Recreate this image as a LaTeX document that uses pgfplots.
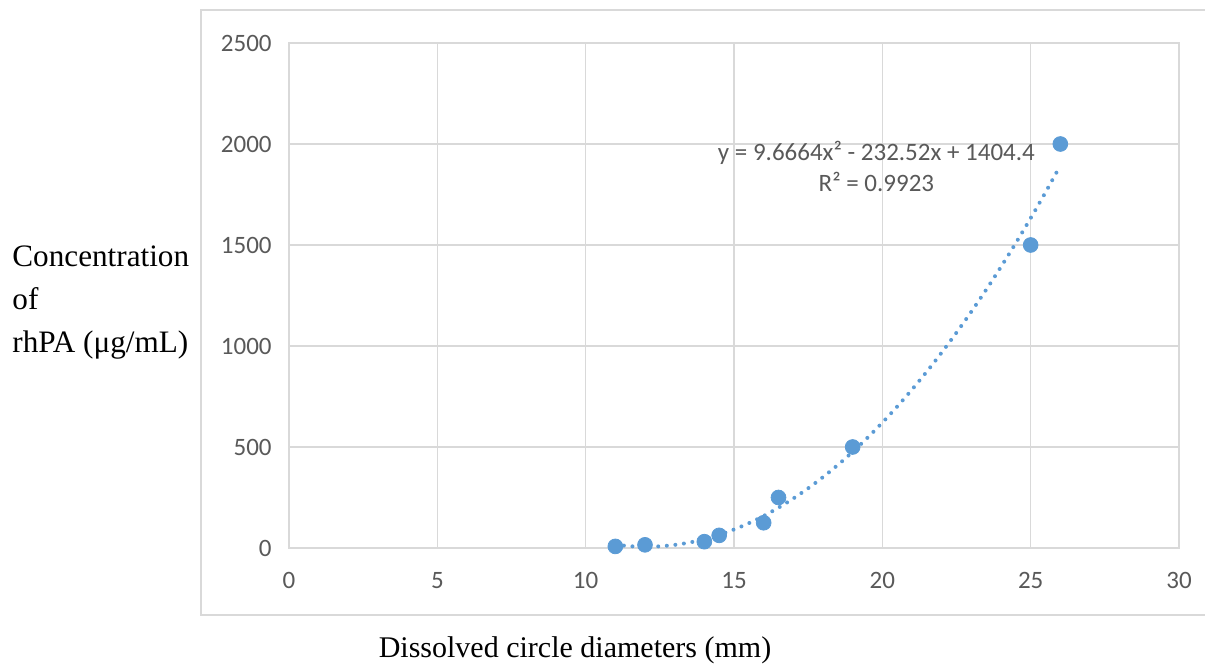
\documentclass[border=0pt]{standalone}
\usepackage{fontspec}
\setmainfont{Liberation Serif}
\newfontfamily\calibri{Carlito}
\usepackage{pgfplots}
\pgfplotsset{compat=1.18}

\definecolor{xlblue}{HTML}{5B9BD5}
\definecolor{xlgrid}{HTML}{D9D9D9}
\definecolor{xltext}{HTML}{595959}

\begin{document}
\begin{tikzpicture}
\useasboundingbox (0,0) rectangle (602.5pt,334pt);
% chart area border (right side runs off the picture)
\draw[xlgrid, line width=0.8pt] (603pt,329pt) -- (100.5pt,329pt) -- (100.5pt,26.5pt) -- (603pt,26.5pt);

\begin{axis}[
    at={(144.5pt,60pt)}, anchor=south west,
    scale only axis,
    width=445pt, height=252.5pt,
    xmin=0, xmax=30, ymin=0, ymax=2500,
    xtick={0,5,...,30}, ytick={0,500,...,2500},
    major tick length=0pt,
    grid=major,
    grid style={xlgrid, line width=0.75pt},
    axis line style={xlgrid, line width=0.75pt},
    tick label style={font=\calibri\fontsize{12.5}{14}\selectfont, text=xltext},
    /pgf/number format/assume math mode=true,
    /pgf/number format/1000 sep={},
    yticklabel style={anchor=east, inner sep=0pt, xshift=-8.5pt},
    xticklabel style={anchor=north, inner sep=0pt, yshift=-12pt},
    clip=false,
]
% polynomial trendline (values of the fitted curve shown on the chart)
\addplot[xlblue, line width=2pt, line cap=round, dash pattern=on 0pt off 4.3pt, smooth] coordinates {
 (11,16.3) (11.5,8.8) (12,6.1) (12.5,8.3) (13,15.3) (13.5,27.1) (14,43.7)
 (14.5,65.2) (15,91.5) (15.5,122.7) (16,158.7) (16.5,199.5) (17,245.2)
 (17.5,295.6) (18,351.0) (18.5,411.1) (19,476.1) (19.5,545.9) (20,620.6)
 (20.5,700.0) (21,784.4) (21.5,873.5) (22,967.5) (22.5,1066.3) (23,1170.0)
 (23.5,1278.5) (24,1391.8) (24.5,1509.9) (25,1632.9) (25.5,1760.7) (26,1893.4)
};
% measured points
\addplot[only marks, mark=*, mark size=3.7pt, mark options={fill=xlblue, draw=xlblue}] coordinates {
 (11,7.8) (12,15.6) (14,31.25) (14.5,62.5) (16,125) (16.5,250) (19,500) (25,1500) (26,2000)
};
\node[font=\calibri\fontsize{12.5}{15.5}\selectfont, text=xltext, align=center] at (axis cs:19.8,1890)
  {y = 9.6664x² - 232.52x + 1404.4\\R² = 0.9923};
\end{axis}

\node[anchor=west, inner sep=0pt, align=left, font=\fontsize{15.6}{21.5}\selectfont] at (6pt,182.5pt)
  {Concentration\\of\\rhPA (μg/mL)};
\node[inner sep=0pt, font=\fontsize{15}{18}\selectfont] at (287.5pt,9pt) {Dissolved circle diameters (mm)};
\end{tikzpicture}
\end{document}
